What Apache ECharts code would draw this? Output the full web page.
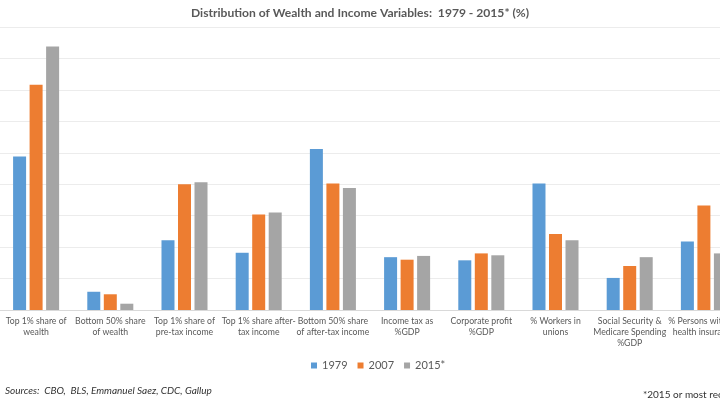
<!DOCTYPE html>
<html style="height: 100%">
<head>
    <meta charset="UTF-8">
    <title>Distribution of Wealth and Income</title>
</head>
<body style="height: 100%; margin: 0; overflow: hidden">
<div id="container" style="width: 720px; height: 405px"></div>
<script src="https://cdn.jsdelivr.net/npm/echarts@6/dist/echarts.min.js"></script>
<script>
    var categories = [
        'Top 1% share of\nwealth',
        'Bottom 50% share\nof wealth',
        'Top 1% share of\npre-tax income',
        'Top 1% share after-\ntax income',
        'Bottom 50% share\nof after-tax income',
        'Income tax as\n%GDP',
        'Corporate profit\n%GDP',
        '% Workers in\nunions',
        'Social Security &\nMedicare Spending\n%GDP',
        '% Persons without\nhealth insurance'
    ];
    var values1979 = [24.4, 2.9, 11.1, 9.1, 25.6, 8.4, 7.9, 20.1, 5.1, 10.9];
    var values2007 = [35.8, 2.5, 20.0, 15.2, 20.1, 8.0, 9.0, 12.1, 7.0, 16.6];
    var values2015 = [41.9, 1.0, 20.3, 15.5, 19.4, 8.6, 8.7, 11.1, 8.4, 9.0];
    var seriesNames = ['1979', '2007', '2015*'];
    var colors = ['#5B9BD5', '#ED7D31', '#A5A5A5'];

    var font = 'Lato';
    var myChart = echarts.init(document.getElementById('container'));
    var option = {
        color: colors,
        animation: false,
        title: {
            text: 'Distribution of Wealth and Income Variables:  1979 - 2015* (%)',
            left: 'center',
            top: 2,
            textStyle: {fontFamily: font, fontSize: 12.1, fontWeight: 'bold', color: '#595959'}
        },
        legend: {
            data: seriesNames,
            left: 306,
            top: 355,
            icon: 'rect',
            itemWidth: 6,
            itemHeight: 6,
            itemGap: 10,
            textStyle: {fontFamily: font, fontSize: 11, color: '#595959'}
        },
        // the picture is a crop: the plot runs on past the right edge
        grid: {left: -1, width: 742, top: 27, bottom: 95, outerBoundsMode: 'none'},
        xAxis: {
            type: 'category',
            data: categories,
            axisTick: {show: false},
            axisLine: {lineStyle: {color: '#d9d9d9'}},
            axisLabel: {
                interval: 0,
                margin: 6,
                fontFamily: font,
                fontSize: 8.7,
                lineHeight: 11,
                color: '#595959'
            }
        },
        yAxis: {
            type: 'value',
            min: 0,
            max: 45,
            interval: 5,
            axisLabel: {show: false},
            splitLine: {lineStyle: {color: '#ececec'}}
        },
        graphic: [
            {
                type: 'text', left: 5, top: 386,
                style: {text: 'Sources:  CBO,  BLS, Emmanuel Saez, CDC, Gallup', fontFamily: font,
                    fontSize: 10, fontStyle: 'italic', fill: '#333'}
            },
            {
                type: 'text', left: 643, top: 390,
                style: {text: '*2015 or most recent year', fontFamily: font, fontSize: 10, fill: '#333'}
            }
        ],
        series: [
            {name: seriesNames[0], type: 'bar', data: values1979, barWidth: 13, barGap: '27%'},
            {name: seriesNames[1], type: 'bar', data: values2007, barWidth: 13, barGap: '27%'},
            {name: seriesNames[2], type: 'bar', data: values2015, barWidth: 13, barGap: '27%'}
        ]
    };
    myChart.setOption(option);
</script>
</body>
</html>
